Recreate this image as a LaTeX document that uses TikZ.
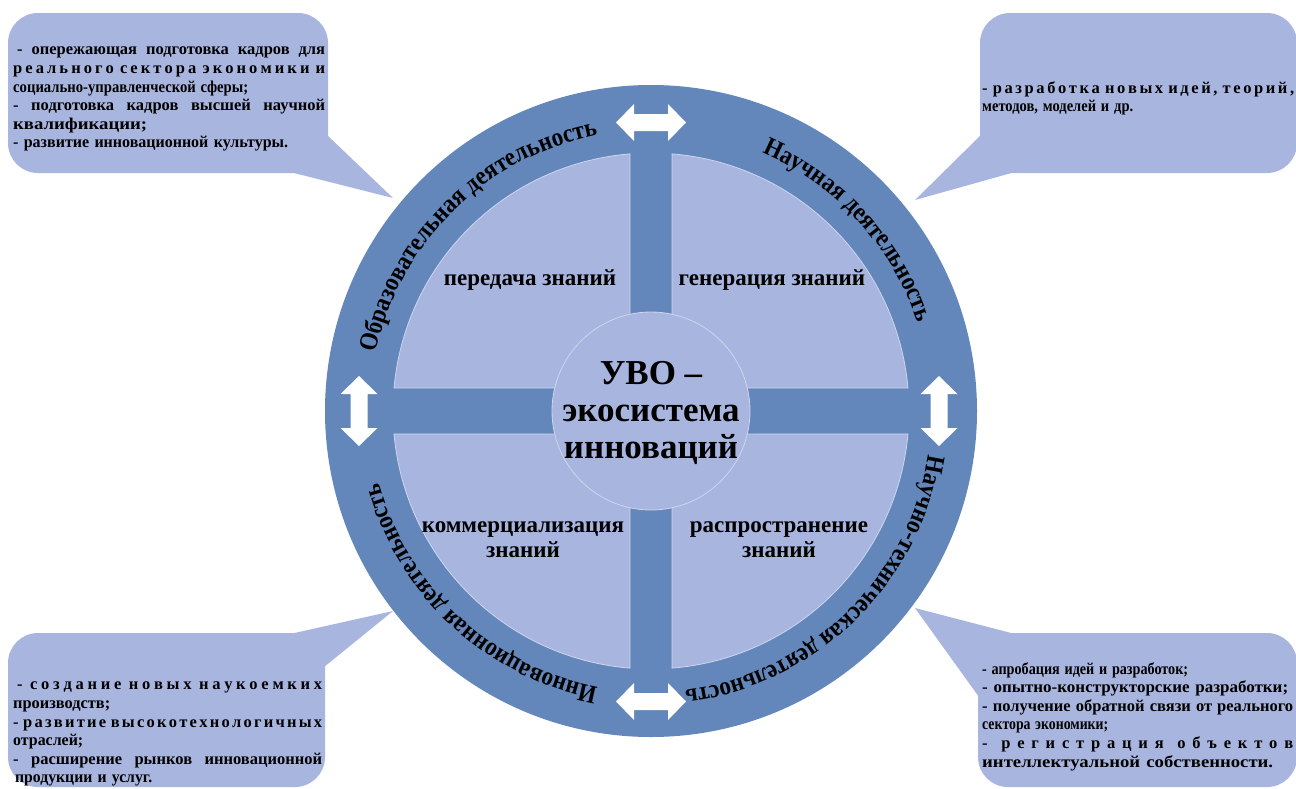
\documentclass[tikz,border=0pt]{standalone}
\usepackage{fontspec}
\usepackage{graphicx}
\setmainfont{Liberation Serif}[BoldFont={Liberation Serif Bold}]
\newfontfamily\ringfam{Liberation Serif}[BoldFont={Liberation Serif Bold}, FakeStretch=0.89]
\usetikzlibrary{decorations.text}
\definecolor{ring}{RGB}{99,135,186}
\definecolor{light}{RGB}{168,181,222}
\definecolor{edge}{RGB}{205,214,238}
\newcommand\rsring{\ringfam\fontsize{26}{26}\selectfont\bfseries}
\newcommand\rsquad{\fontsize{23}{25}\selectfont\bfseries}
\newcommand\rscore{\fontsize{35}{37}\selectfont\bfseries}
\newcommand\rsco{\fontsize{16.5}{18.6}\selectfont\bfseries}
\newcommand\fitw[2]{\resizebox{#1}{\height}{#2}}
\ExplSyntaxOn
\bool_new:N \l_rs_first_bool
\tl_new:N \l_rs_out_tl
\seq_new:N \l_rs_words_seq
\cs_new_protected:Npn \rs_spread:nn #1 #2
 {
  \seq_set_split:Nnn \l_rs_words_seq { ~ } { #2 }
  \tl_clear:N \l_rs_out_tl
  \bool_set_true:N \l_rs_first_bool
  \seq_map_inline:Nn \l_rs_words_seq
   {
    \bool_if:NF \l_rs_first_bool { \tl_put_right:Nn \l_rs_out_tl { \hfil } }
    \tl_map_inline:nn { ##1 }
     {
      \bool_if:NTF \l_rs_first_bool
       { \bool_set_false:N \l_rs_first_bool }
       { \tl_put_right:Nn \l_rs_out_tl { \hfil } }
      \tl_put_right:Nn \l_rs_out_tl { ####1 }
     }
   }
  \mode_leave_vertical:
  \hbox_to_wd:nn { #1 } { \l_rs_out_tl }
 }
\cs_new_protected:Npn \rs_just:nn #1 #2
 {
  \seq_set_split:Nnn \l_rs_words_seq { ~ } { #2 }
  \mode_leave_vertical:
  \hbox_to_wd:nn { #1 } { \seq_use:Nn \l_rs_words_seq { \hskip 0.25em plus 1fil } }
 }
\NewDocumentCommand \spreadline { m m } { \rs_spread:nn {#1} {#2} }
\NewDocumentCommand \justline { m m } { \rs_just:nn {#1} {#2} }
\ExplSyntaxOff
\begin{document}
\begin{tikzpicture}[x=1pt,y=1pt,
  cotext/.style={inner sep=0pt, text width=#1, align=left, font=\rsco, anchor=north west},
  quadlabel/.style={inner sep=0pt, align=center, font=\rsquad},
  ringtext/.style={decorate, decoration={text along path, text={|\rsring|#1}, text align=center}},
  quad/.style={fill=light, draw=edge, line width=0.8pt},
  arrowshape/.style={fill=white, draw=none}]
\useasboundingbox (0,0) rectangle (1296,-788);
% callouts
\fill[light, rounded corners=30pt] (8,-13) rectangle (328,-173);
\fill[light] (290,-172) -- (393,-198) -- (327,-135) -- cycle;
\fill[light, rounded corners=30pt] (980,-13) rectangle (1297,-173);
\fill[light] (981,-135) -- (915,-200) -- (1015,-172) -- cycle;
\fill[light, rounded corners=30pt] (8,-633) rectangle (325,-787);
\fill[light] (290,-634) -- (393,-611) -- (324,-667) -- cycle;
\fill[light, rounded corners=30pt] (978,-633) rectangle (1297,-787);
\fill[light] (1015,-634) -- (915,-608) -- (979,-697) -- cycle;
% callout texts
\node[cotext=312pt] (tltext) at (13,-47) {%
\hspace*{4pt}\justline{308pt}{- опережающая подготовка кадров для}\\
\spreadline{312pt}{реального сектора экономики и}\\
\fitw{235pt}{социально-управленческой сферы;}\\
\justline{312pt}{- подготовка кадров высшей научной}\\
\fitw{134pt}{квалификации;}\\
\fitw{275pt}{- развитие инновационной культуры.}};
\node[cotext=312pt] (trtext) at (982,-81) {%
\spreadline{312pt}{- разработка новых идей, теорий,}\\
\fitw{151pt}{методов, моделей и др.}};
\node[cotext=309pt] (bltext) at (13,-682) {%
\hspace*{4pt}\spreadline{305pt}{- создание новых наукоемких}\\
\fitw{97pt}{производств;}\\
\spreadline{309pt}{- развитие высокотехнологичных}\\
\fitw{70pt}{отраслей;}\\
\justline{309pt}{- расширение рынков инновационной}\\
\hspace*{2pt}\fitw{137pt}{продукции и услуг.}};
\node[cotext=311pt] (brtext) at (982,-662) {%
\fitw{206pt}{- апробация идей и разработок;}\\
\fitw{306pt}{- опытно-конструкторские разработки;}\\
\justline{311pt}{- получение обратной связи от реального}\\
\fitw{126pt}{сектора экономики;}\\
\spreadline{311pt}{- регистрация объектов}\\
\fitw{291pt}{интеллектуальной собственности.}};
% main wheel
\begin{scope}[shift={(651,-411)}]
\fill[ring] (0,0) circle[radius=326];
\path[quad] (-21,23) -- (94.67:258) arc[start angle=94.67, end angle=174.89, radius=258] -- cycle;
\path[quad] (21,23) -- (85.33:258) arc[start angle=85.33, end angle=5.11, radius=258] -- cycle;
\path[quad] (21,-23) -- (-5.11:258) arc[start angle=-5.11, end angle=-85.33, radius=258] -- cycle;
\path[quad] (-21,-23) -- (-94.67:258) arc[start angle=-94.67, end angle=-174.89, radius=258] -- cycle;
\node[circle, quad, minimum size=198pt, inner sep=0pt] (core) at (0,0) {};
\node[inner sep=0pt, align=center, font=\rscore] (coretext) at (0,-2) {УВО –\\экосистема\\инноваций};
\node[quadlabel] (q1) at (-121,131) {передача знаний};
\node[quadlabel] (q2) at (121,131) {генерация знаний};
\node[quadlabel] (q3) at (-128,-129) {коммерциализация\\знаний};
\node[quadlabel] (q4) at (128,-129) {распространение\\знаний};
% ring texts
\path[ringtext={Образовательная деятельность}] (174.5:281) arc[start angle=174.5, end angle=94.5, radius=281];
\path[ringtext={Научная деятельность}] (82.5:281) arc[start angle=82.5, end angle=2.5, radius=281];
\path[ringtext={Научно-техническая деятельность}] (-1:281) arc[start angle=-1, end angle=-91, radius=281];
\path[ringtext={Инновационная деятельность}] (-88:281) arc[start angle=-88, end angle=-178, radius=281];
% double arrows
\foreach \px/\py/\rot in {0/288.5/0, 0/-290.5/0, -292/0/90, 288/0/90} {
  \fill[arrowshape, shift={(\px,\py)}, rotate=\rot]
    (-35,0) -- (-17,18.5) -- (-17,8.5) -- (17,8.5) -- (17,18.5) -- (35,0)
    -- (17,-18.5) -- (17,-8.5) -- (-17,-8.5) -- (-17,-18.5) -- cycle;
}
\end{scope}
\end{tikzpicture}
\end{document}
